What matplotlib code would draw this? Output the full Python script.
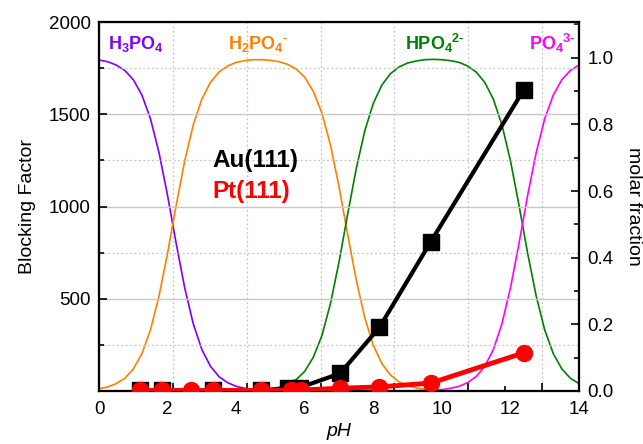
import numpy as np
import matplotlib
matplotlib.use("Agg")
import matplotlib.pyplot as plt
from matplotlib.ticker import MultipleLocator, FormatStrFormatter

plt.rcParams['font.family'] = 'Liberation Sans'
plt.rcParams['mathtext.fontset'] = 'custom'
plt.rcParams['mathtext.rm'] = 'Liberation Sans'
plt.rcParams['mathtext.bf'] = 'Liberation Sans:bold'
plt.rcParams['mathtext.it'] = 'Liberation Sans:italic'

# blocking factor data (left axis)
au_ph = [1.2, 1.84, 3.32, 4.72, 5.5, 5.85, 7.03, 8.18, 9.68, 12.39]
au_bf = [5, 5, 5, 3, 15, 18, 95, 345, 810, 1633]
pt_ph = [1.2, 1.84, 2.68, 3.32, 4.72, 5.6, 5.88, 7.03, 8.18, 9.68, 12.39]
pt_bf = [3, 3, 3, 3, 3, 5, 5, 15, 22, 43, 207]

# phosphate speciation (right axis)
ph_curve = [0.0, 0.25, 0.5, 0.75, 1.0, 1.25, 1.5, 1.75, 2.0, 2.25, 2.5, 2.75,
            3.0, 3.25, 3.5, 3.75, 4.0, 4.25, 4.5, 4.75, 5.0, 5.25, 5.5, 5.75,
            6.0, 6.25, 6.5, 6.75, 7.0, 7.25, 7.5, 7.75, 8.0, 8.25, 8.5, 8.75,
            9.0, 9.25, 9.5, 9.75, 10.0, 10.25, 10.5, 10.75, 11.0, 11.25, 11.5,
            11.75, 12.0, 12.25, 12.5, 12.75, 13.0, 13.25, 13.5, 13.75, 14.0]
h3po4 = [0.993, 0.988, 0.978, 0.962, 0.934, 0.888, 0.817, 0.715, 0.586, 0.443,
         0.309, 0.201, 0.124, 0.074, 0.043, 0.025, 0.014, 0.008, 0.004, 0.002,
         0.001] + [0.0] * 36
h2po4 = [0.007, 0.012, 0.022, 0.038, 0.066, 0.112, 0.183, 0.285, 0.414, 0.557,
         0.691, 0.799, 0.876, 0.926, 0.957, 0.975, 0.986, 0.991, 0.994, 0.994,
         0.992, 0.988, 0.980, 0.966, 0.941, 0.899, 0.834, 0.738, 0.613, 0.471,
         0.334, 0.220, 0.137, 0.082, 0.048, 0.027, 0.016, 0.009, 0.005, 0.003,
         0.002] + [0.0] * 16
hpo4 = [0.0] * 16 + [0.001, 0.001, 0.002, 0.004, 0.006, 0.011, 0.020, 0.034,
                     0.059, 0.101, 0.166, 0.262, 0.387, 0.529, 0.666, 0.780,
                     0.863, 0.918, 0.952, 0.972, 0.984, 0.990, 0.994, 0.995,
                     0.994, 0.991, 0.986, 0.975, 0.957, 0.926, 0.876, 0.799,
                     0.691, 0.557, 0.414, 0.285, 0.183, 0.112, 0.066, 0.038,
                     0.022]
po4 = [0.0] * 37 + [0.001, 0.001, 0.003, 0.004, 0.008, 0.014, 0.025, 0.043,
                    0.074, 0.124, 0.201, 0.309, 0.443, 0.586, 0.715, 0.817,
                    0.888, 0.934, 0.962, 0.978]

hy = '\u2010'  # short hyphen for the charges
species = [(h3po4, '#8000ff', r'H$_\mathbf{3}$PO$_\mathbf{4}$', 0.25),
           (h2po4, '#ff8000', r'H$_\mathbf{2}$PO$_\mathbf{4}$$^\mathbf{' + hy + '}$', 3.75),
           (hpo4, '#008000', r'HPO$_\mathbf{4}$$^\mathbf{2' + hy + '}$', 8.93),
           (po4, '#ff00ff', r'PO$_\mathbf{4}$$^\mathbf{3' + hy + '}$', 12.55)]

fig = plt.figure(figsize=(6.43, 4.44), dpi=100)
ax = fig.add_axes([0.154, 0.1194, 0.7465, 0.831])
axt = ax.twiny()
axr = ax.twinx()

axt.set_zorder(0)
axr.set_zorder(1)
ax.set_zorder(2)
axt.patch.set_visible(True)
axt.patch.set_facecolor('white')
ax.patch.set_visible(False)
axr.patch.set_visible(False)

# tick marks and vertical grid come from a 0-13 scale
axt.set_xlim(0, 13)
axt.xaxis.set_major_locator(MultipleLocator(2))
axt.xaxis.set_minor_locator(MultipleLocator(1))
axt.xaxis.set_ticks_position('bottom')
axt.tick_params(axis='x', which='both', direction='in', labelbottom=False,
                labeltop=False, top=False, width=1.2)
axt.tick_params(axis='x', which='major', length=6)
axt.tick_params(axis='x', which='minor', length=3.5)
axt.grid(axis='x', which='major', color='#c4c4c4', lw=0.9, ls=(0, (1.5, 2)))

# speciation curves
for vals, col, lab, xl in species:
    axr.plot(ph_curve, vals, color=col, lw=1.2)
    axr.text(xl, 1.042, lab, color=col, fontsize=13, fontweight='bold',
             va='center', ha='left', clip_on=True)
axr.set_ylim(0, 1.107)
axr.yaxis.set_major_locator(MultipleLocator(0.2))
axr.yaxis.set_minor_locator(MultipleLocator(0.1))
axr.yaxis.set_major_formatter(FormatStrFormatter('%.1f'))
axr.tick_params(axis='y', which='both', direction='in', labelsize=13.5,
                width=1.2, pad=6)
axr.tick_params(axis='y', which='major', length=6)
axr.tick_params(axis='y', which='minor', length=3.5)
axr.set_ylabel('molar fraction', fontsize=14, rotation=270, va='bottom',
               labelpad=8)

# blocking factor
ax.plot(au_ph, au_bf, color='black', lw=3, marker='s', ms=11.5, zorder=3,
        clip_on=True)
ax.plot(pt_ph, pt_bf, color='red', lw=3.5, marker='o', ms=11.5, zorder=4,
        clip_on=True)
ax.set_xlim(0, 14)
ax.set_ylim(0, 2000)
ax.set_xticks(range(0, 15, 2))
ax.set_yticks([500, 1000, 1500, 2000])
ax.yaxis.set_minor_locator(MultipleLocator(250))
ax.tick_params(axis='x', which='both', length=0, labelsize=13.5, pad=7)
ax.tick_params(axis='y', which='both', direction='in', labelsize=13.5,
               width=1.2, pad=6)
ax.tick_params(axis='y', which='major', length=6)
ax.tick_params(axis='y', which='minor', length=3.5)
ax.grid(axis='y', which='major', color='#c8c8c8', lw=1.0, ls='-')
ax.grid(axis='y', which='minor', color='#c4c4c4', lw=0.9, ls=(0, (1.5, 2)))
ax.set_axisbelow(True)
ax.set_ylabel('Blocking Factor', fontsize=14, labelpad=9)
ax.set_xlabel('pH', fontsize=14, style='italic', labelpad=4)

ax.text(3.3, 1250, 'Au(111)', color='black', fontsize=17.5,
        fontweight='bold', va='center', ha='left')
ax.text(3.3, 1080, 'Pt(111)', color='red', fontsize=17.5,
        fontweight='bold', va='center', ha='left')

for a in (ax, axr, axt):
    for s in a.spines.values():
        s.set_linewidth(1.5)
        s.set_color('black')

fig.savefig('out.png', dpi=100)
